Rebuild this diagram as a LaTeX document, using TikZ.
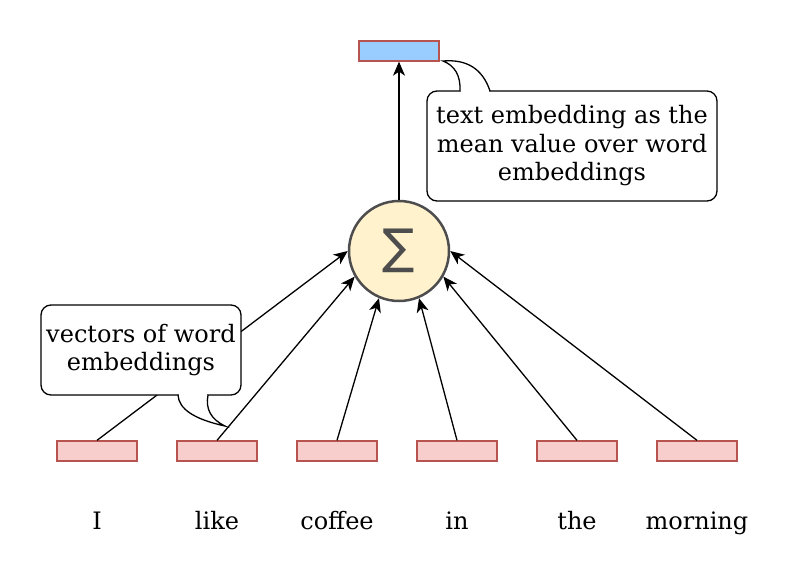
\documentclass[tikz,border=0pt]{standalone}
\usepackage{fontspec}
\setmainfont{DejaVu Serif}
\newfontfamily\sumfont{DejaVu Sans}
\usetikzlibrary{arrows.meta}
\definecolor{embred}{RGB}{184,84,80}
\definecolor{embpink}{RGB}{248,206,204}
\definecolor{embblue}{RGB}{153,204,255}
\definecolor{sumyellow}{RGB}{255,242,204}
\definecolor{sumgray}{RGB}{77,77,77}

\begin{document}
\begin{tikzpicture}[x=1pt, y=-1pt,
  every node/.style={font=\fontsize{24}{28.5}\selectfont},
  vec/.style={draw=embred, line width=1.3pt, minimum width=80pt, minimum height=20pt, inner sep=0pt},
  word/.style={anchor=base, inner sep=0pt},
  feed/.style={-{Stealth[length=14pt,width=12pt,inset=4pt]}, line width=1.3pt},
  callout/.style={draw, fill=white, rounded corners=10pt, line width=1.3pt, align=center, inner sep=0pt}]
\useasboundingbox (0,0) rectangle (788,582);

% Word vectors
\node[vec, fill=embpink] (vI) at (97,451) {};
\node[vec, fill=embpink] (vlike) at (217,451) {};
\node[vec, fill=embpink] (vcoffee) at (337,451) {};
\node[vec, fill=embpink] (vin) at (457,451) {};
\node[vec, fill=embpink] (vthe) at (577,451) {};
\node[vec, fill=embpink] (vmorning) at (697,451) {};

% Words
\node[word] (tI) at (97,529) {I};
\node[word] (tlike) at (217,529) {like};
\node[word] (tcoffee) at (337,529) {coffee};
\node[word] (tin) at (457,529) {in};
\node[word] (tthe) at (577,529) {the};
\node[word] (tmorning) at (697,529) {morning};

% Sum and text vector
\node[circle, draw=sumgray, fill=sumyellow, line width=2.5pt, minimum size=100pt, inner sep=0pt,
  text=sumgray, font=\sumfont\fontsize{48}{48}\selectfont] (sum) at (399,251) {∑};
\node[vec, fill=embblue] (mean) at (399,51) {};

% Arrows
\draw[feed] (vI.north) -- (sum.west);
\draw[feed] (vlike.north) -- (sum.210);
\draw[feed] (vcoffee.north) -- (sum.247);
\draw[feed] (vin.north) -- (sum.293);
\draw[feed] (vthe.north) -- (sum.330);
\draw[feed] (vmorning.north) -- (sum.east);
\draw[feed] (sum.north) -- (mean.south);

% Callouts
\node[callout, minimum width=290pt, minimum height=110pt] (textnote) at (572,146)
  {text embedding as the\\mean value over word\\embeddings};
\fill[white] (461,88) rectangle (489,94);
\draw[fill=white, line width=1.3pt] (460,91) .. controls (460.7,75.7) and (455,65.7) .. (443,61)
  .. controls (467,59) and (482.7,69) .. (490,91);

\node[callout, minimum width=200pt, minimum height=90pt] (wordnote) at (141,350)
  {vectors of word\\embeddings};
\fill[white] (179,392) rectangle (207,398);
\draw[fill=white, line width=1.3pt] (178,395) .. controls (178.7,409) and (194.3,419.3) .. (225,426)
  .. controls (211,419.3) and (205.3,409) .. (208,395);
\end{tikzpicture}
\end{document}
